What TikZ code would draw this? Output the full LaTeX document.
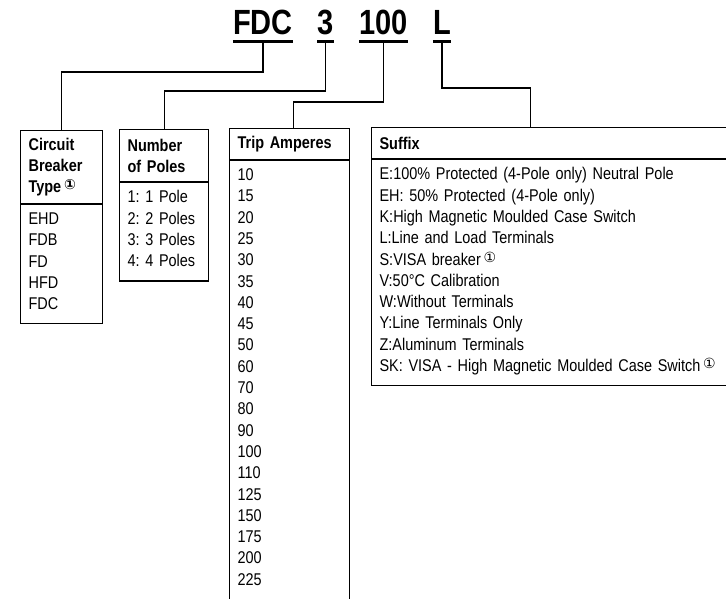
\documentclass[tikz,border=0pt]{standalone}
\usepackage{fontspec}
\setmainfont{Liberation Sans}[FakeStretch=0.85]
\newfontfamily\codefont{Liberation Sans}[FakeStretch=0.83]
\newfontfamily\circfont{DejaVu Sans}
\usetikzlibrary{positioning}
\frenchspacing

\newcommand{\bodysize}{\fontsize{17}{21.3}\selectfont}
\newcommand{\fnote}{\,{\circfont\fontsize{14}{14}\selectfont\raisebox{3pt}{①}}}
\newcommand{\topstrut}{\rule{0pt}{12pt}}

\tikzset{
  link/.style={line width=1.2pt},
  uline/.style={line width=3pt},
  code/.style={font=\codefont\bfseries\fontsize{35}{35}\selectfont, inner sep=0pt, anchor=base},
  boxhead/.style={draw, line width=1.2pt, anchor=north west, align=left,
    inner xsep=8pt, inner ysep=0pt, font=\bfseries\bodysize},
  boxbody/.style={draw, line width=1.2pt, anchor=north west, align=left,
    inner xsep=8pt, inner ysep=7.75pt, font=\bodysize},
}

\begin{document}
\begin{tikzpicture}[x=1pt, y=-1pt]
\useasboundingbox (0,0) rectangle (726,599);
\clip (0,0) rectangle (726,599);

% ---------- catalogue code ----------
\node[code] (fdc)   at (263,35)   {FDC};
\node[code] (poles) at (325.5,35) {3};
\node[code] (amps)  at (383.5,35) {100};
\node[code] (sfx)   at (442,35)   {L};
\foreach \c in {fdc,poles,amps,sfx}
  \draw[uline] ([yshift=-6.5pt]\c.base west) -- ([yshift=-6.5pt]\c.base east);

% ---------- circuit breaker type ----------
\node[boxhead, text width=66pt, minimum height=73pt] (cbthead) at (20,130)
  {Circuit\\Breaker\\Type\fnote};
\node[boxbody, text width=66pt] (cbtbody) at (cbthead.south west)
  {\topstrut EHD\\FDB\\FD\\HFD\\FDC\strut};

% ---------- number of poles ----------
\node[boxhead, text width=73pt, minimum height=52pt] (nophead) at (119,129)
  {Number\\of Poles};
\node[boxbody, text width=73pt] (nopbody) at (nophead.south west)
  {\topstrut 1: 1 Pole\\2: 2 Poles\\3: 3 Poles\\4: 4 Poles\strut};

% ---------- trip amperes ----------
\node[boxhead, text width=104pt, minimum height=31pt] (triphead) at (229,128)
  {Trip Amperes};
\node[boxbody, text width=104pt] (tripbody) at (triphead.south west)
  {\topstrut 10\\15\\20\\25\\30\\35\\40\\45\\50\\60\\70\\80\\90\\100\\110\\125\\150\\175\\200\\225\strut};

% ---------- suffix ----------
\node[boxhead, text width=420pt, minimum height=31pt] (sfxhead) at (371,127)
  {Suffix};
\node[boxbody, text width=420pt] (sfxbody) at (sfxhead.south west)
  {\topstrut E:100\% Protected (4-Pole only) Neutral Pole\\
   EH: 50\% Protected (4-Pole only)\\
   K:High Magnetic Moulded Case Switch\\
   L:Line and Load Terminals\\
   S:VISA breaker\fnote\\
   V:50°C Calibration\\
   W:Without Terminals\\
   Y:Line Terminals Only\\
   Z:Aluminum Terminals\\
   SK: VISA - High Magnetic Moulded Case Switch\fnote\strut};

% ---------- leaders ----------
\draw[link] ([yshift=-8pt]fdc.base)   -- ++(0,29) -| (cbthead.north);
\draw[link] ([yshift=-8pt]poles.base) -- ++(0,48) -| (nophead.north);
\draw[link] ([yshift=-8pt]amps.base)  -- ++(0,59) -| ([xshift=4pt]triphead.north);
\draw[link] ([yshift=-8pt]sfx.base)   -- ++(0,45) -| ([xshift=-59pt]sfxhead.north);

\end{tikzpicture}
\end{document}
